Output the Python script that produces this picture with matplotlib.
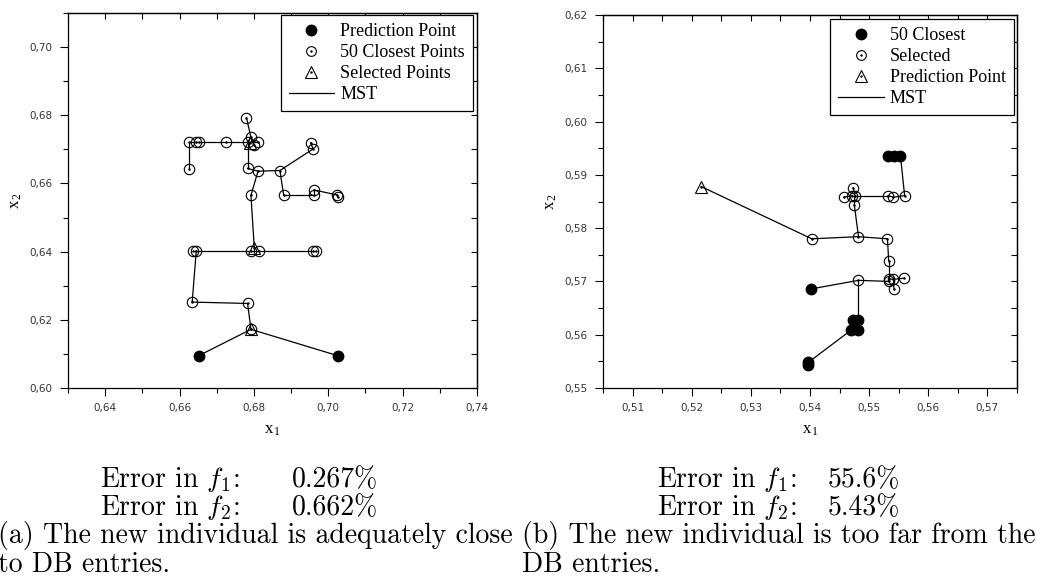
import matplotlib
matplotlib.use("Agg")
import matplotlib.pyplot as plt
from matplotlib.lines import Line2D
from matplotlib.ticker import MultipleLocator, FuncFormatter

plt.rcParams["mathtext.fontset"] = "cm"

# (a) data
a_pred_x = [0.6652, 0.7025]
a_pred_y = [0.6095, 0.6095]
a_close_x = [0.6792, 0.6783, 0.6634, 0.6636, 0.6645, 0.6792, 0.6813, 0.6959, 0.6966,
             0.6792, 0.6811, 0.6783, 0.6870, 0.6880, 0.6962, 0.6962, 0.7024, 0.7026,
             0.6625, 0.6625, 0.6643, 0.6652, 0.6724, 0.6783, 0.6792, 0.6800, 0.6810,
             0.6953, 0.6959, 0.6780]
a_close_y = [0.6172, 0.6248, 0.6252, 0.6403, 0.6403, 0.6403, 0.6403, 0.6403, 0.6403,
             0.6565, 0.6636, 0.6644, 0.6638, 0.6565, 0.6565, 0.6581, 0.6566, 0.6559,
             0.6641, 0.6721, 0.6721, 0.6721, 0.6721, 0.6721, 0.6735, 0.6714, 0.6721,
             0.6720, 0.6701, 0.6793]
a_sel_x = [0.6801, 0.6792, 0.6790]
a_sel_y = [0.6412, 0.6172, 0.6718]
# MST edges, as (group, index) pairs: P = prediction, C = closest, S = selected
a_edges = [("P0", "C0"), ("P1", "C0"), ("C0", "C1"), ("C1", "C2"), ("C2", "C4"),
           ("C3", "C4"), ("C4", "C5"), ("C5", "C6"), ("C6", "C7"), ("C7", "C8"),
           ("S0", "C9"), ("C9", "C10"), ("C10", "C11"), ("C10", "C12"), ("C12", "C13"),
           ("C13", "C14"), ("C14", "C15"), ("C15", "C16"), ("C16", "C17"),
           ("C12", "C28"), ("C28", "C27"), ("C11", "C23"), ("C19", "C20"),
           ("C20", "C21"), ("C21", "C22"), ("C22", "C23"), ("C23", "C26"),
           ("C23", "C24"), ("C24", "C25"), ("C19", "C18"), ("C29", "C24")]

# (b) data
b_pred_x = [0.5532, 0.5542, 0.5553, 0.5402, 0.5473, 0.5482, 0.5470, 0.5482, 0.5397, 0.5397]
b_pred_y = [0.5935, 0.5935, 0.5935, 0.5686, 0.5627, 0.5627, 0.5609, 0.5609, 0.5548, 0.5544]
b_close_x = [0.5403, 0.5482, 0.5531, 0.5533, 0.5533, 0.5541, 0.5542, 0.5559, 0.5534,
             0.5482, 0.5475, 0.5471, 0.5476, 0.5473, 0.5457, 0.5532, 0.5541, 0.5560]
b_close_y = [0.5780, 0.5784, 0.5780, 0.5739, 0.5705, 0.5704, 0.5686, 0.5706, 0.5700,
             0.5702, 0.5843, 0.5861, 0.5861, 0.5876, 0.5858, 0.5861, 0.5858, 0.5861]
b_sel_x = [0.5216]
b_sel_y = [0.5878]
b_edges = [("S0", "C0"), ("C0", "C1"), ("C1", "C2"), ("C2", "C3"), ("C3", "C4"),
           ("C9", "C8"), ("C8", "C4"), ("C4", "C5"), ("C5", "C7"), ("C5", "C6"),
           ("C1", "C10"), ("C10", "C12"), ("C12", "C11"), ("C11", "C14"), ("C12", "C13"),
           ("C12", "C15"), ("C15", "C16"), ("C16", "C17"), ("C17", "P2"), ("P2", "P1"),
           ("P1", "P0"), ("P3", "C9"), ("C9", "P5"), ("P5", "P4"), ("P4", "P6"),
           ("P6", "P7"), ("P6", "P8"), ("P8", "P9")]

W, H = 1037, 580
fig = plt.figure(figsize=(W / 100, H / 100), dpi=100)


def px_axes(l, t, r, b):
    return fig.add_axes([l / W, 1 - b / H, (r - l) / W, (b - t) / H])


def comma_fmt(v, pos):
    return f"{v:.2f}".replace(".", ",")


def draw_panel(ax, pred, close, sel, edges, xlim, ylim, xstep, ystep, labels, legend_box):
    nodes = {}
    for key, (xs, ys) in zip("PCS", (pred, close, sel)):
        for i, (x, y) in enumerate(zip(xs, ys)):
            nodes[f"{key}{i}"] = (x, y)

    # markers first, MST lines on top (like the original)
    ax.plot(pred[0], pred[1], "o", color="black", ms=7.5, zorder=2)
    ax.plot(close[0], close[1], "o", mfc="none", mec="black", mew=0.8, ms=7.5, zorder=2)
    ax.plot(sel[0], sel[1], "^", mfc="none", mec="black", mew=0.8, ms=8.5, zorder=2)
    for a, b in edges:
        (x0, y0), (x1, y1) = nodes[a], nodes[b]
        ax.plot([x0, x1], [y0, y1], color="black", lw=0.9, zorder=3)

    ax.set_xlim(*xlim)
    ax.set_ylim(*ylim)
    ax.xaxis.set_major_locator(MultipleLocator(xstep))
    ax.xaxis.set_minor_locator(MultipleLocator(xstep / 2))
    ax.yaxis.set_major_locator(MultipleLocator(ystep))
    ax.yaxis.set_minor_locator(MultipleLocator(ystep / 2))
    ax.xaxis.set_major_formatter(FuncFormatter(comma_fmt))
    ax.yaxis.set_major_formatter(FuncFormatter(comma_fmt))
    ax.tick_params(which="major", direction="out", length=6, width=0.8,
                   labelsize=7.5, labelcolor="#333333", pad=5)
    ax.tick_params(which="minor", direction="out", length=3.5, width=0.8)
    for s in ax.spines.values():
        s.set_linewidth(0.9)

    # mirrored ticks on top and right point inward
    top = ax.secondary_xaxis("top")
    right = ax.secondary_yaxis("right")
    for sec, axis in ((top, top.xaxis), (right, right.yaxis)):
        loc = xstep if sec is top else ystep
        axis.set_major_locator(MultipleLocator(loc))
        axis.set_minor_locator(MultipleLocator(loc / 2))
        sec.tick_params(which="both", direction="in", length=4, width=0.8,
                        labeltop=False, labelright=False)
        for s in sec.spines.values():
            s.set_linewidth(0.9)

    ax.set_xlabel(r"x$_{\mathregular{1}}$", family="Liberation Serif", fontsize=12, labelpad=6)
    ax.set_ylabel(r"x$_{\mathregular{2}}$", family="Liberation Serif", fontsize=12, labelpad=4)

    dot = dict(ls="none", marker=".", color="black", ms=1.5)
    handles = [
        Line2D([], [], ls="none", marker="o", color="black", ms=7.5),
        (Line2D([], [], ls="none", marker="o", mfc="none", mec="black", mew=0.8, ms=7),
         Line2D([], [], **dot)),
        (Line2D([], [], ls="none", marker="^", mfc="none", mec="black", mew=0.8, ms=8),
         Line2D([], [], **dot)),
        Line2D([], [], color="black", lw=0.9),
    ]
    leg = ax.legend(handles, labels, loc="upper right", bbox_to_anchor=legend_box,
                    borderaxespad=0, borderpad=0.45, handlelength=2.5, handletextpad=0.35,
                    labelspacing=0.22, fancybox=False, framealpha=1, edgecolor="black",
                    prop={"family": "Liberation Serif", "size": 13})
    leg.get_frame().set_linewidth(0.9)

    # little dot in the middle of every hollow marker
    ax.plot(close[0], close[1], **dot, zorder=2)
    ax.plot(sel[0], sel[1], **dot, zorder=2)


ax_a = px_axes(68, 13, 477, 388)
draw_panel(ax_a, (a_pred_x, a_pred_y), (a_close_x, a_close_y), (a_sel_x, a_sel_y), a_edges,
           (0.63, 0.74), (0.60, 0.71), 0.02, 0.02,
           ["Prediction Point", "50 Closest Points", "Selected Points", "MST"],
           ((473 - 68) / 409, 1 - 2 / 375))

ax_b = px_axes(603, 15, 1017, 388)
draw_panel(ax_b, (b_pred_x, b_pred_y), (b_close_x, b_close_y), (b_sel_x, b_sel_y), b_edges,
           (0.505, 0.575), (0.55, 0.62), 0.01, 0.01,
           ["50 Closest", "Selected", "Prediction Point", "MST"],
           ((1014 - 603) / 414, 1 - 4 / 373))

# error values and sub-captions
txt = dict(family="cmr10", fontsize=20, va="baseline")
fig.text(100 / W, 1 - 487 / H, "Error in $f_1$:", **txt)
fig.text(292 / W, 1 - 487 / H, "0.267%", **txt)
fig.text(100 / W, 1 - 515 / H, "Error in $f_2$:", **txt)
fig.text(292 / W, 1 - 515 / H, "0.662%", **txt)
fig.text(-2 / W, 1 - 543 / H, "(a) The new individual is adequately close", **txt)
fig.text(-2 / W, 1 - 572 / H, "to DB entries.", **txt)

fig.text(657 / W, 1 - 487 / H, "Error in $f_1$:", **txt)
fig.text(828 / W, 1 - 487 / H, "55.6%", **txt)
fig.text(657 / W, 1 - 515 / H, "Error in $f_2$:", **txt)
fig.text(828 / W, 1 - 515 / H, "5.43%", **txt)
fig.text(522 / W, 1 - 543 / H, "(b) The new individual is too far from the", **txt)
fig.text(522 / W, 1 - 572 / H, "DB entries.", **txt)

fig.savefig("out.png", dpi=100)
